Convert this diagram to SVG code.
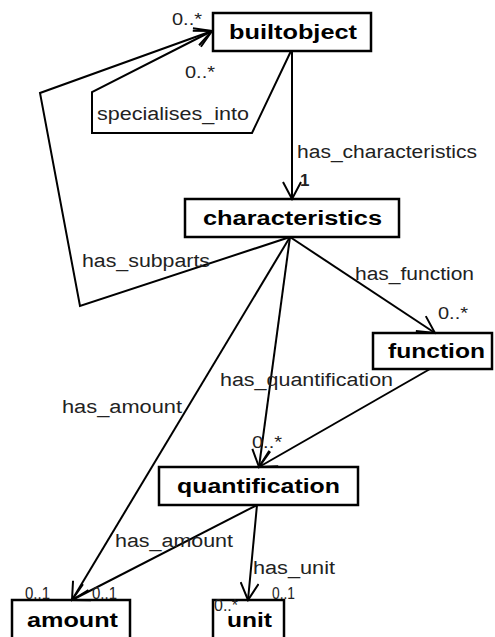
<svg xmlns="http://www.w3.org/2000/svg" width="495" height="637" viewBox="0 0 495 637">
<defs>
<marker id="arr" markerUnits="userSpaceOnUse" viewBox="0 0 20 20" refX="18" refY="10" markerWidth="20" markerHeight="20" orient="auto">
<path d="M1,1 L18,10 L1,19" fill="none" stroke="#000" stroke-width="2"/>
</marker>
<style>
.box{fill:#fff;stroke:#000;stroke-width:2.5}
.nt{font-family:"Liberation Sans",Arial,sans-serif;font-weight:bold;font-size:20px;fill:#000}
.ln{fill:none;stroke:#000;stroke-width:2;marker-end:url(#arr)}
.lb{font-family:"Liberation Sans",Arial,sans-serif;font-size:18px;fill:#222}
.m{font-family:"Liberation Sans",Arial,sans-serif;font-size:17px;fill:#222}
</style>
</defs>
<g id="builtobject"><rect class="box" x="213" y="13" width="158" height="38"/><text class="nt" x="229" y="39" textLength="128" lengthAdjust="spacingAndGlyphs">builtobject</text></g>
<g id="characteristics"><rect class="box" x="185" y="199" width="214" height="38"/><text class="nt" x="203" y="225" textLength="179" lengthAdjust="spacingAndGlyphs">characteristics</text></g>
<g id="function"><rect class="box" x="373" y="333" width="119" height="36"/><text class="nt" x="388" y="358" textLength="97" lengthAdjust="spacingAndGlyphs">function</text></g>
<g id="quantification"><rect class="box" x="159" y="467" width="199" height="38"/><text class="nt" x="177" y="493" textLength="163" lengthAdjust="spacingAndGlyphs">quantification</text></g>
<g id="amount"><rect class="box" x="12" y="600" width="118" height="45"/><text class="nt" x="27" y="627" textLength="91" lengthAdjust="spacingAndGlyphs">amount</text></g>
<g id="unit"><rect class="box" x="213" y="600" width="71" height="45"/><text class="nt" x="227" y="627" textLength="45" lengthAdjust="spacingAndGlyphs">unit</text></g>
<g id="connectors">
<path class="ln" d="M292,51 L292,199"/>
<path class="ln" d="M291,51 L252,133 L92,133 L92,92 L212,31"/>
<path class="ln" d="M290,237 L80,306 L40,93 L212,31"/>
<path class="ln" d="M290,237 L435,333"/>
<path class="ln" d="M290,237 L259,467"/>
<path class="ln" d="M430,369 L259,467"/>
<path class="ln" d="M290,237 L72,600"/>
<path class="ln" d="M257,505 L72,600"/>
<path class="ln" d="M257,505 L248,600"/>
<text class="lb" x="297" y="158" textLength="180" lengthAdjust="spacingAndGlyphs">has_characteristics</text>
<text class="m" x="300" y="186" font-weight="bold">1</text>
<text class="lb" x="97" y="120" textLength="152" lengthAdjust="spacingAndGlyphs">specialises_into</text>
<text class="m" x="172" y="25" textLength="30" lengthAdjust="spacingAndGlyphs">0..*</text>
<text class="m" x="185" y="78" textLength="30" lengthAdjust="spacingAndGlyphs">0..*</text>
<text class="lb" x="82" y="267" textLength="128" lengthAdjust="spacingAndGlyphs">has_subparts</text>
<text class="lb" x="355" y="280" textLength="119" lengthAdjust="spacingAndGlyphs">has_function</text>
<text class="m" x="438" y="319" textLength="30" lengthAdjust="spacingAndGlyphs">0..*</text>
<text class="lb" x="220" y="386" textLength="173" lengthAdjust="spacingAndGlyphs">has_quantification</text>
<text class="m" x="252" y="448" textLength="30" lengthAdjust="spacingAndGlyphs">0..*</text>
<text class="lb" x="62" y="413" textLength="120" lengthAdjust="spacingAndGlyphs">has_amount</text>
<text class="lb" x="115" y="547" textLength="118" lengthAdjust="spacingAndGlyphs">has_amount</text>
<text class="lb" x="253" y="574" textLength="82" lengthAdjust="spacingAndGlyphs">has_unit</text>
<text class="m" x="25" y="599" textLength="25" lengthAdjust="spacingAndGlyphs">0..1</text>
<text class="m" x="92" y="599" textLength="25" lengthAdjust="spacingAndGlyphs">0..1</text>
<text class="m" x="272" y="599" textLength="23" lengthAdjust="spacingAndGlyphs">0..1</text>
<text class="m" x="214" y="611" font-size="13" textLength="24" lengthAdjust="spacingAndGlyphs">0..*</text>
</g>
</svg>
